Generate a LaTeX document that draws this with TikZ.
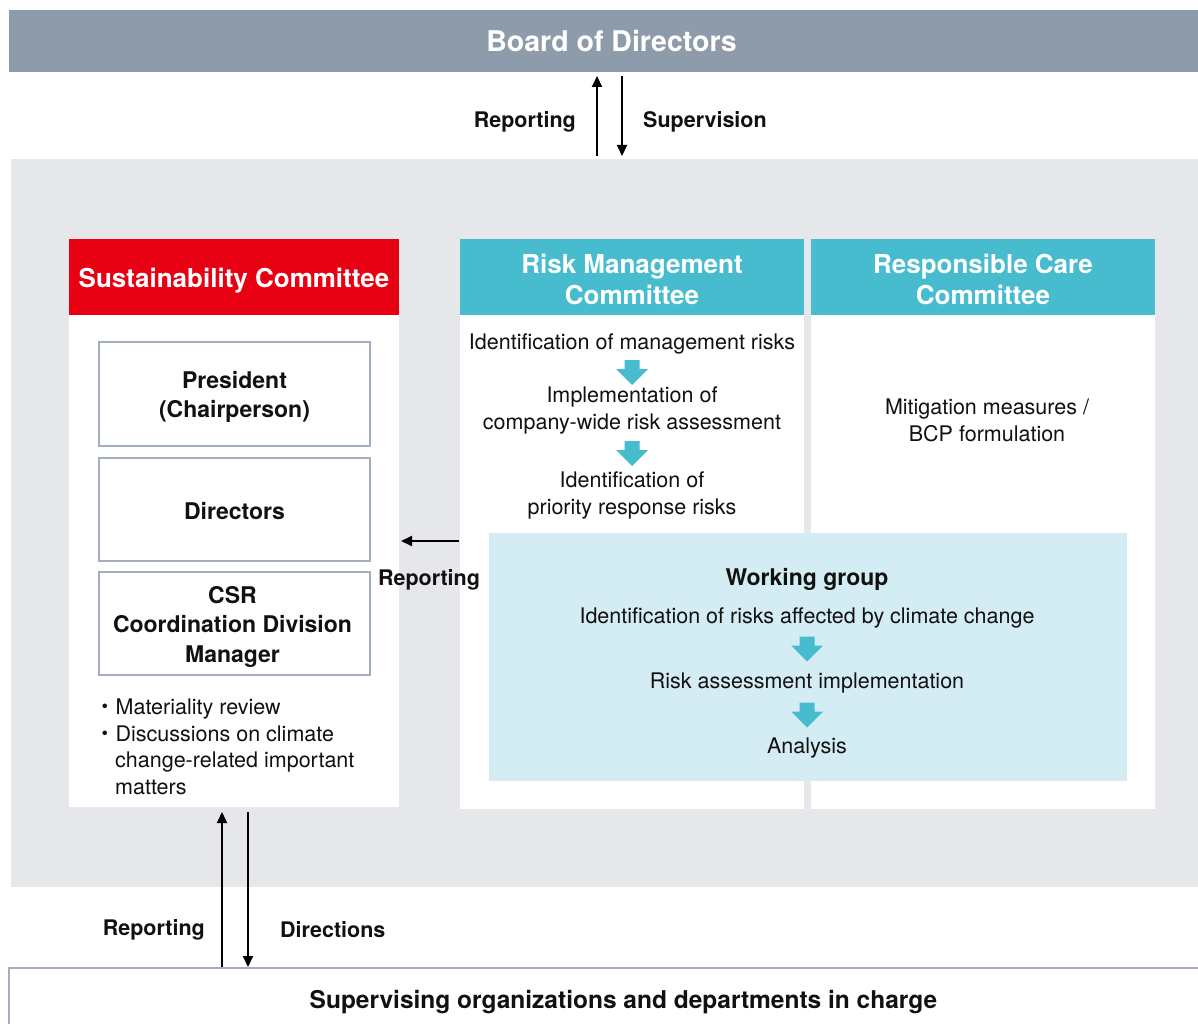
\documentclass[tikz,border=0pt]{standalone}
\usepackage{fontspec}
\setmainfont{TeX Gyre Heros}
\newfontfamily\cjkfont{Noto Sans CJK JP}
\usetikzlibrary{arrows.meta}
\definecolor{boardc}{HTML}{8E9BAB}
\definecolor{panelc}{HTML}{E6E7EB}
\definecolor{redc}{HTML}{E60012}
\definecolor{tealc}{HTML}{47BCCF}
\definecolor{lightc}{HTML}{D4ECF3}
\definecolor{bordc}{HTML}{A2ADBD}
\definecolor{txtc}{HTML}{111111}
\tikzset{
  blk/.style={inner sep=0pt, outer sep=0pt, anchor=north west},
  hdr/.style={blk, text=white, align=center, font=\bfseries\fontsize{26}{31}\selectfont},
  member/.style={blk, draw=bordc, line width=1.3pt, fill=white, align=center, text=txtc, font=\bfseries\fontsize{23}{29.5}\selectfont},
  body/.style={text=txtc, align=center, inner sep=0pt, font=\fontsize{21.5}{27}\selectfont},
  lbl/.style={text=txtc, inner sep=0pt, font=\bfseries\fontsize{21.5}{26}\selectfont},
  arr/.style={line width=2pt, draw=black, -{Triangle[width=10pt,length=11pt]}},
  blockfill/.style={fill=tealc, draw=none}
}
\newcommand{\blockarrow}[1]{\fill[blockfill] (#1) ++(-7.5,-12.5) -- ++(15,0) -- ++(0,9) -- ++(8.5,0) -- ++(-16,16) -- ++(-16,-16) -- ++(8.5,0) -- cycle;}
\begin{document}
\begin{tikzpicture}[x=1pt,y=-1pt]
\useasboundingbox (0,0) rectangle (1198,1024);
\clip (0,0) rectangle (1198,1024);
\fill[white] (0,0) rectangle (1198,1024);

% board
\node[blk, fill=boardc, minimum width=1205pt, minimum height=62pt, text=white, font=\bfseries\fontsize{28.5}{30}\selectfont, text depth=0pt, text height=20.5pt] (board) at (9,10) {Board of Directors};

% panel
\node[blk, fill=panelc, minimum width=1187pt, minimum height=728pt] (panel) at (11,159) {};

% sustainability committee
\node[hdr, fill=redc, minimum width=330pt, minimum height=76pt] (schead) at (69,239) {};
\node[hdr] (scheadt) at ([yshift=-4pt]schead.center) [anchor=center] {Sustainability Committee};
\node[blk, fill=white, minimum width=330pt, minimum height=492pt] (scbody) at (69,315) {};
\node[member, minimum width=271pt, minimum height=104pt] (pres) at (99,342) {};
\node[member, draw=none, fill=none, anchor=center] (prest) at ([yshift=-3pt]pres.center) {President\\(Chairperson)};
\node[member, minimum width=271pt, minimum height=103pt] (dirs) at (99,458) {};
\node[member, draw=none, fill=none, anchor=center] (dirst) at ([yshift=-2pt]dirs.center) {Directors};
\node[member, minimum width=271pt, minimum height=103pt] (csr) at (99,572) {};
\node[member, draw=none, fill=none, anchor=center] (csrt) at ([xshift=-2pt,yshift=-3pt]csr.center) {CSR\\Coordination Division\\Manager};
\node[body, anchor=base west] (b1) at (94,714) {{\cjkfont ・}Materiality review};
\node[body, anchor=base west] (b2) at (94,741) {{\cjkfont ・}Discussions on climate};
\node[body, anchor=base west] (b3) at (115,767) {change-related important};
\node[body, anchor=base west] (b4) at (115,794) {matters};

% risk management committee
\node[hdr, fill=tealc, minimum width=344pt, minimum height=76pt] (rmhead) at (460,239) {};
\node[hdr, anchor=center] (rmheadt) at ([yshift=-2pt]rmhead.center) {Risk Management\\Committee};
\node[blk, fill=white, minimum width=344pt, minimum height=494pt] (rmbody) at (460,315) {};
\node[body] (rm1) at (632,344) {Identification of management risks};
\coordinate (rma1) at (632,372.5);
\node[body] (rm2) at (632,410.5) {Implementation of\\company-wide risk assessment};
\coordinate (rma2) at (632,453.5);
\node[body] (rm3) at (632,495.5) {Identification of\\priority response risks};

% responsible care committee
\node[hdr, fill=tealc, minimum width=344pt, minimum height=76pt] (rchead) at (811,239) {};
\node[hdr, anchor=center] (rcheadt) at ([yshift=-2pt]rchead.center) {Responsible Care\\Committee};
\node[blk, fill=white, minimum width=344pt, minimum height=494pt] (rcbody) at (811,315) {};
\node[body] (rc1) at (987,420) {Mitigation measures /\\BCP formulation};

% working group
\node[blk, fill=lightc, minimum width=638pt, minimum height=248pt] (wg) at (489,533) {};
\node[body, font=\bfseries\fontsize{23}{27}\selectfont] (wgt) at (807,579) {Working group};
\node[body] (wg1) at (807,618) {Identification of risks affected by climate change};
\coordinate (wga1) at (807,649);
\node[body] (wg2) at (807,683) {Risk assessment implementation};
\coordinate (wga2) at (807,715);
\node[body] (wg3) at (807,748) {Analysis};

\blockarrow{rma1}
\blockarrow{rma2}
\blockarrow{wga1}
\blockarrow{wga2}

% bottom box
\node[blk, fill=white, draw=bordc, line width=1.3pt, minimum width=1229pt, minimum height=100pt] (bottom) at (9,968) {};
\node[lbl, font=\bfseries\fontsize{24.5}{28}\selectfont] (bottomt) at (623.5,1002) {Supervising organizations and departments in charge};

% top arrows
\draw[arr] ([xshift=-7.5pt,yshift=3pt]panel.north) -- ([xshift=-14.5pt,yshift=-4pt]board.south);
\draw[arr] ([xshift=10.5pt,yshift=-4pt]board.south) -- ([xshift=17.5pt,yshift=3pt]panel.north);
\node[lbl, anchor=east] (l1) at (576,122) {Reporting};
\node[lbl, anchor=west] (l2) at (643,122) {Supervision};

% reporting to sustainability committee
\draw[arr] ([xshift=-1pt,yshift=21pt]rmbody.west) -- ([xshift=2pt,yshift=20pt]scbody.east);
\node[lbl] (l3) at (429,580) {Reporting};

% bottom arrows
\draw[arr] ([xshift=-12pt,yshift=1pt]bottom.north -| scbody.south) -- ([xshift=-12pt,yshift=-5pt]scbody.south);
\draw[arr] ([xshift=14pt,yshift=-5pt]scbody.south) -- ([xshift=14pt,yshift=1pt]bottom.north -| scbody.south);
\node[lbl, anchor=east] (l4) at (205,930) {Reporting};
\node[lbl, anchor=west] (l5) at (280,930) {Directions};
\end{tikzpicture}
\end{document}
